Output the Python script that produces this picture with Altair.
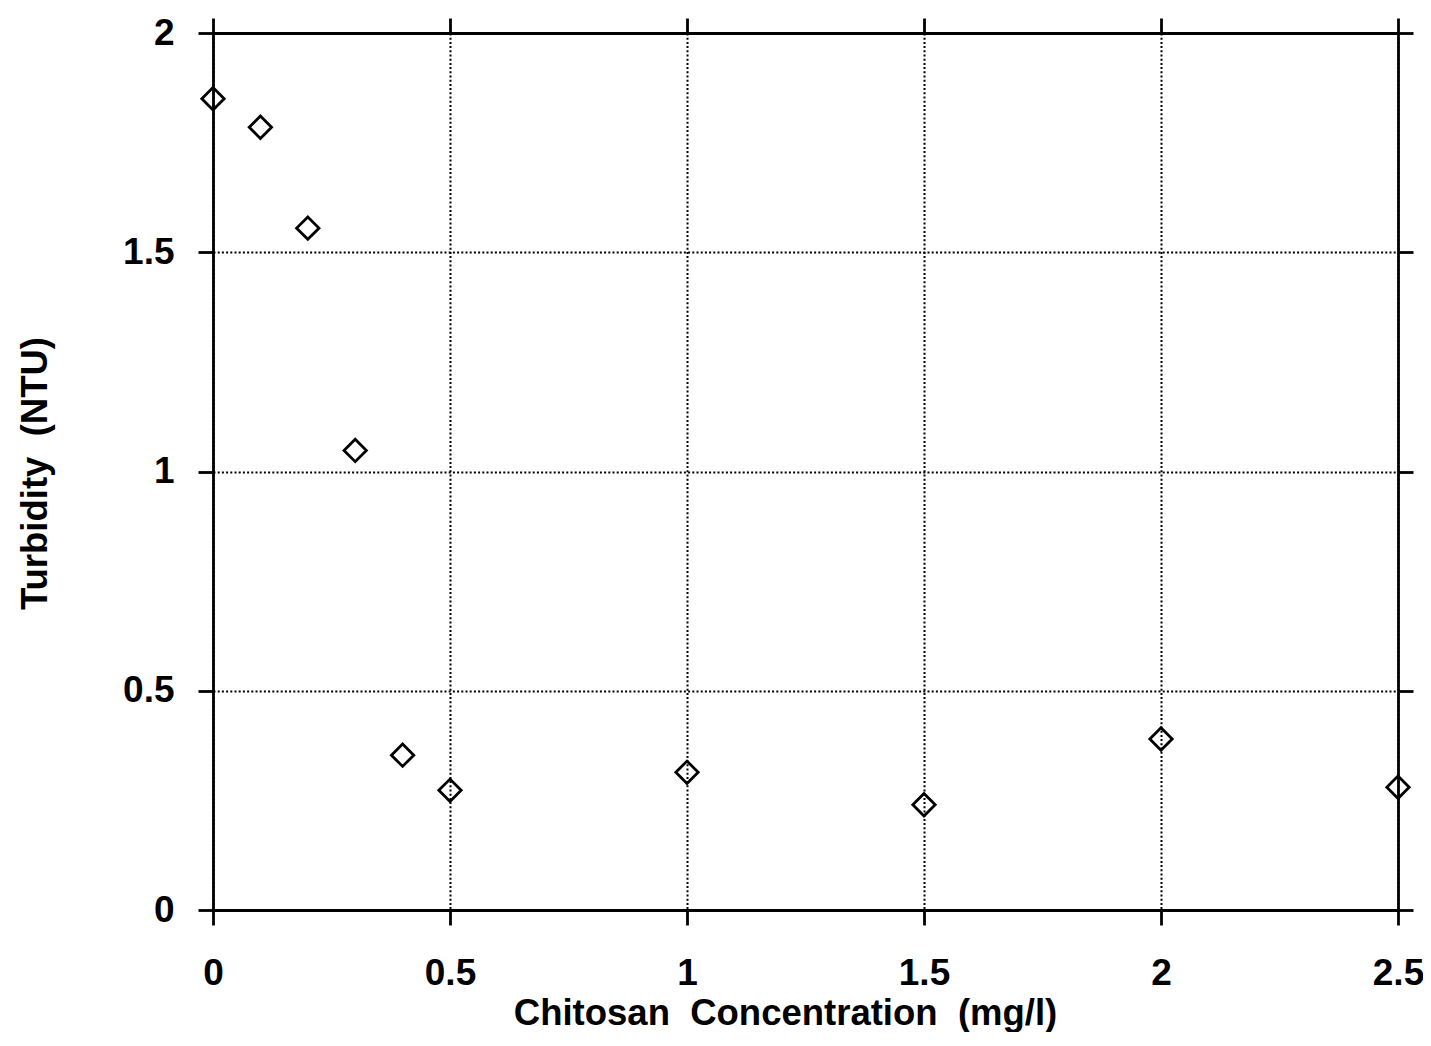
import altair as alt
import pandas as pd

# Data
concentration = [0.0, 0.1, 0.2, 0.3, 0.4, 0.5, 1.0, 1.5, 2.0, 2.5]
turbidity = [1.85, 1.785, 1.555, 1.048, 0.353, 0.273, 0.314, 0.24, 0.39, 0.28]

x_ticks = [0, 0.5, 1, 1.5, 2, 2.5]
y_ticks = [0, 0.5, 1, 1.5, 2]

NB = "\u00a0"
x_title = f"Chitosan{NB}{NB}Concentration{NB}{NB}(mg/l)"
y_title = f"Turbidity{NB}{NB}(NTU)"

df = pd.DataFrame({"conc": concentration, "turb": turbidity})

FONT = "Liberation Sans"

x_scale = alt.Scale(domain=[0, 2.5], nice=False, zero=False)
y_scale = alt.Scale(domain=[0, 2], nice=False, zero=False)

main = alt.Chart(df).mark_point(
    shape="diamond", filled=False, color="black", strokeWidth=2.8, size=500, opacity=1
).encode(
    x=alt.X(
        "conc:Q",
        scale=x_scale,
        axis=alt.Axis(
            orient="bottom",
            values=x_ticks,
            title=x_title,
            titleX=572,
            titleY=103,
            titleAlign="center",
            titleBaseline="middle",
            labelPadding=30,
            labelExpr="datum.value == 0 ? '0' : format(datum.value, '.2~f')",
            grid=True,
        ),
    ),
    y=alt.Y(
        "turb:Q",
        scale=y_scale,
        axis=alt.Axis(
            orient="left",
            values=y_ticks,
            title=y_title,
            titleX=-178,
            titleY=440,
            titleAngle=270,
            titleAlign="center",
            titleBaseline="middle",
            labelPadding=24,
            labelExpr="format(datum.value, '.2~f')",
            grid=True,
        ),
    ),
)

frame = alt.Chart(df).mark_point(opacity=0).encode(
    x=alt.X(
        "conc:Q",
        scale=x_scale,
        axis=alt.Axis(orient="top", values=x_ticks, labels=False, title=None, grid=False),
    ),
    y=alt.Y(
        "turb:Q",
        scale=y_scale,
        axis=alt.Axis(orient="right", values=y_ticks, labels=False, title=None, grid=False),
    ),
)

chart = (
    alt.layer(main, frame)
    .resolve_axis(x="independent", y="independent")
    .properties(
        width=1185,
        height=877,
        autosize=alt.AutoSizeParams(type="none"),
        padding={"left": 205, "top": 25, "right": 25, "bottom": 122},
        background="white",
    )
    .configure_view(stroke=None)
    .configure_axis(
        labelFont=FONT,
        titleFont=FONT,
        labelFontSize=37,
        titleFontSize=36.5,
        labelFontWeight="bold",
        titleFontWeight="bold",
        labelColor="black",
        titleColor="black",
        domainColor="black",
        domainWidth=2.8,
        tickColor="black",
        tickWidth=2.8,
        tickSize=15,
        gridColor="black",
        gridWidth=2,
        gridDash=[2, 2.2],
        gridOpacity=1,
        labelFlush=False,
        labelOverlap=False,
    )
)

chart.save("out.html", embed_options={"renderer": "svg", "actions": False})
